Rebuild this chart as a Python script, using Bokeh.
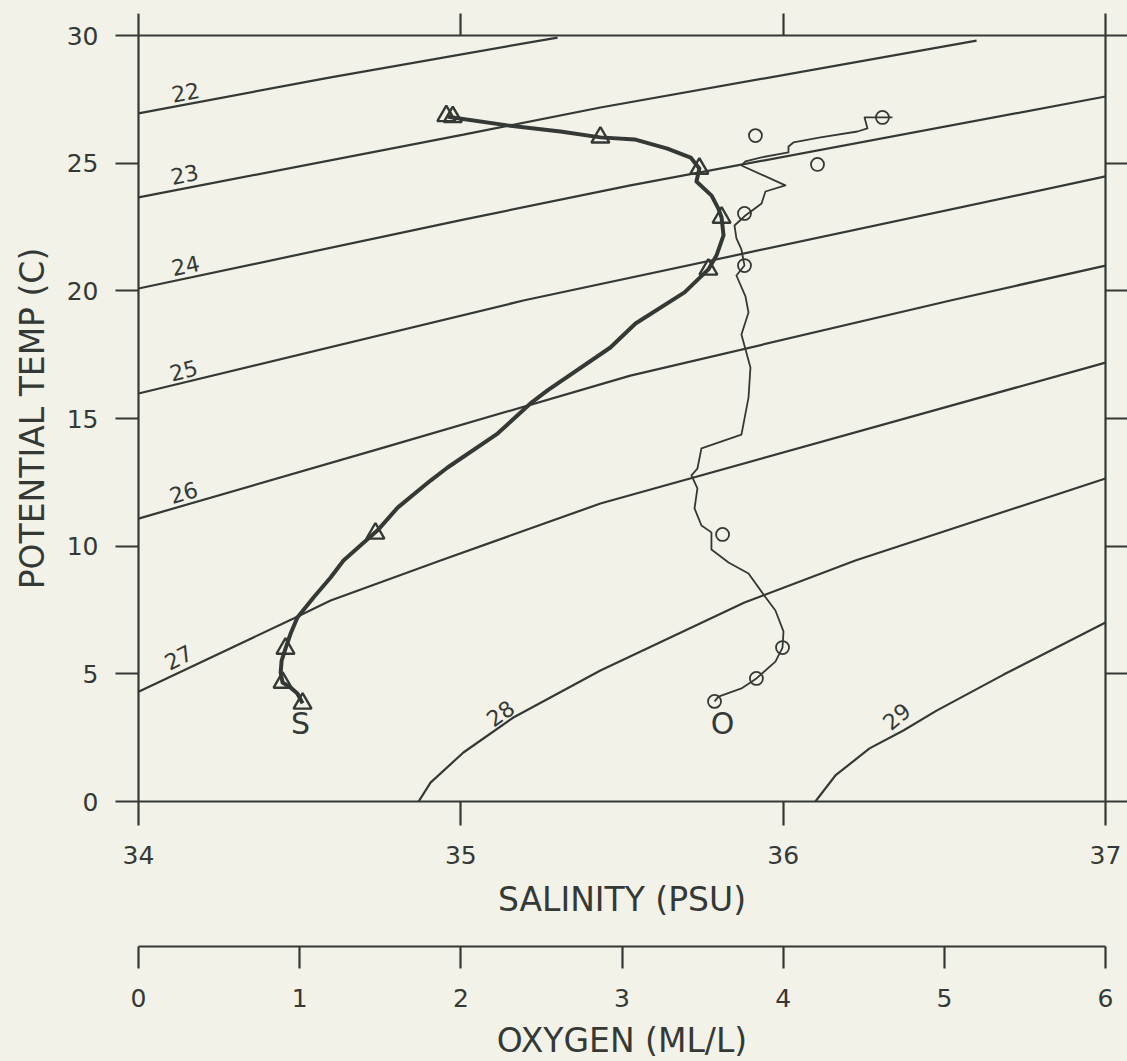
from bokeh.plotting import figure
from bokeh.models import Range1d, LinearAxis, FixedTicker
from bokeh.embed import file_html
from bokeh.resources import INLINE
from bokeh.core.properties import value
import math

# ---------------- data ----------------
SIGMA_LEVELS = ["22", "23", "24", "25", "26", "27", "28", "29"]

ISO22_S = [34.000, 34.596, 35.300]
ISO22_T = [26.95, 28.36, 29.92]
ISO23_S = [34.000, 35.008, 35.433, 36.600]
ISO23_T = [23.66, 26.12, 27.18, 29.80]
ISO24_S = [34.000, 35.008, 35.526, 37.000]
ISO24_T = [20.09, 22.79, 24.13, 27.61]
ISO25_S = [34.000, 35.194, 37.000]
ISO25_T = [15.98, 19.62, 24.48]
ISO26_S = [34.000, 34.760, 35.526, 36.519, 37.000]
ISO26_T = [11.08, 13.86, 16.68, 19.62, 20.99]
ISO27_S = [34.000, 34.481, 34.596, 34.937, 35.433, 37.000]
ISO27_T = [4.30, 7.17, 7.87, 9.44, 11.67, 17.19]
ISO28_S = [34.869, 34.906, 35.008, 35.163, 35.433, 35.880, 36.224, 37.000]
ISO28_T = [0.00, 0.74, 1.92, 3.29, 5.13, 7.79, 9.44, 12.65]
ISO29_S = [36.100, 36.162, 36.268, 36.373, 36.476, 36.684, 37.000]
ISO29_T = [0.00, 1.02, 2.08, 2.78, 3.56, 4.97, 7.01]

# salinity profile (PSU, deg C)
SAL_S = [34.959, 34.974, 35.145, 35.309, 35.433, 35.539, 35.641, 35.713, 35.740,
         35.731, 35.778, 35.799, 35.809, 35.815, 35.793, 35.768, 35.694, 35.542,
         35.464, 35.269, 35.216, 35.114, 34.959, 34.906, 34.804, 34.741, 34.636,
         34.596, 34.543, 34.493, 34.472, 34.456, 34.444, 34.441, 34.447, 34.472,
         34.493, 34.509]
SAL_T = [26.83, 26.79, 26.48, 26.24, 26.01, 25.93, 25.57, 25.22, 24.79,
         24.28, 23.73, 23.22, 22.87, 22.17, 21.38, 20.84, 19.94, 18.72,
         17.78, 16.10, 15.59, 14.41, 13.08, 12.57, 11.51, 10.61, 9.44,
         8.77, 7.99, 7.21, 6.58, 5.99, 5.52, 5.05, 4.66, 4.46,
         4.23, 3.84]
SAL_BOTTLE_S = [34.955, 34.975, 35.433, 35.740, 35.809, 35.768, 34.735, 34.456, 34.447, 34.509]
SAL_BOTTLE_T = [26.85, 26.81, 26.01, 24.79, 22.87, 20.84, 10.50, 5.99, 4.66, 3.84]

# oxygen profile (ml/l, deg C)
OXY_O = [4.678, 4.505, 4.523, 4.461, 4.232, 4.064, 4.033, 4.033, 3.859, 3.766,
         3.741, 4.014, 3.890, 3.866, 3.766, 3.698, 3.710, 3.741, 3.760, 3.710,
         3.766, 3.785, 3.741, 3.797, 3.785, 3.741, 3.493, 3.468, 3.431, 3.468,
         3.450, 3.493, 3.555, 3.555, 3.661, 3.785, 3.878, 3.952, 4.002, 3.996,
         3.952, 3.834, 3.741, 3.599, 3.574]
OXY_T = [26.79, 26.79, 26.36, 26.24, 26.01, 25.81, 25.65, 25.42, 25.22, 25.07,
         24.91, 24.13, 23.89, 23.42, 22.95, 22.56, 22.05, 21.62, 20.99, 20.60,
         19.78, 19.15, 18.29, 17.00, 15.82, 14.37, 13.83, 13.04, 12.77, 12.26,
         11.48, 10.81, 10.54, 9.87, 9.36, 8.93, 8.11, 7.48, 6.66, 6.03,
         5.48, 4.82, 4.43, 4.11, 3.92]
OXY_BOTTLE_O = [4.616, 3.828, 4.213, 3.760, 3.760, 3.624, 3.996, 3.834, 3.574]
OXY_BOTTLE_T = [26.79, 26.08, 24.95, 23.03, 20.99, 10.46, 6.03, 4.82, 3.92]

TEMP_TICKS = [0, 5, 10, 15, 20, 25, 30]
SAL_TICKS = [34, 35, 36, 37]
OXY_TICKS = [0, 1, 2, 3, 4, 5, 6]

# ---------------- annotation layout ----------------
LABEL_S = [34.146, 34.143, 34.146, 34.140, 34.140, 34.124, 35.123, 36.352]
LABEL_T = [27.77, 24.56, 20.99, 16.88, 12.10, 5.64, 3.45, 3.33]
LABEL_ANGLE_DEG = [10.5, 11, 12, 14, 17, 27, 36, 40]

BG = "#f2f2e8"
INK = "#353935"
FONT = "DejaVu Sans"

p = figure(frame_width=967, frame_height=766,
           x_range=Range1d(34, 37), y_range=Range1d(0, 30),
           output_backend="svg", toolbar_location=None,
           min_border_left=130, min_border_right=22,
           min_border_top=0, min_border_bottom=0)
p.extra_x_ranges = {"oxy": Range1d(0, 6)}
p.grid.visible = False
p.outline_line_color = None
p.background_fill_color = BG
p.border_fill_color = BG


def style(ax, ticks, out, labels=True, standoff=15):
    ax.ticker = FixedTicker(ticks=ticks, minor_ticks=[])
    ax.minor_tick_line_color = None
    ax.major_tick_in = 0
    ax.major_tick_out = out
    ax.axis_line_width = 2.2
    ax.axis_line_color = INK
    ax.major_tick_line_width = 2.2
    ax.major_tick_line_color = INK
    ax.major_label_text_font = FONT
    ax.major_label_text_color = INK
    ax.axis_label_text_font = FONT
    ax.axis_label_text_color = INK
    ax.axis_label_text_font_style = "normal"
    ax.axis_label_text_font_size = "33px"
    if labels:
        ax.major_label_text_font_size = "25px"
        ax.major_label_standoff = standoff
    else:
        ax.major_label_text_font_size = "0px"
        ax.major_label_text_color = None
        ax.major_label_standoff = 0


def spacer_axis(tick, length, **kw):
    ax = LinearAxis(**kw)
    style(ax, [tick], length, labels=False)
    ax.axis_line_color = None
    ax.major_tick_line_color = BG
    ax.major_tick_line_width = 1
    return ax


# left (temperature)
yl = p.yaxis[0]
style(yl, TEMP_TICKS, 23, standoff=17)
yl.axis_label = "POTENTIAL TEMP (C)"
yl.axis_label_standoff = 12

# bottom (salinity)
xs = p.xaxis[0]
style(xs, SAL_TICKS, 24, standoff=20)
xs.axis_label = "SALINITY (PSU)"
xs.axis_label_standoff = 13

# top and right ticks
top = LinearAxis()
style(top, SAL_TICKS, 22, labels=False)
p.add_layout(top, "above")
p.add_layout(spacer_axis(34, 5), "above")
right = LinearAxis()
style(right, TEMP_TICKS, 22, labels=False)
p.add_layout(right, "right")

# spacer between salinity and oxygen axes
p.add_layout(spacer_axis(34, 25), "below")

# oxygen axis
ox = LinearAxis(x_range_name="oxy")
style(ox, OXY_TICKS, 22, standoff=20)
ox.axis_label = "OXYGEN (ML/L)"
ox.axis_label_standoff = 11
p.add_layout(ox, "below")

# isopycnals
iso_s = [ISO22_S, ISO23_S, ISO24_S, ISO25_S, ISO26_S, ISO27_S, ISO28_S, ISO29_S]
iso_t = [ISO22_T, ISO23_T, ISO24_T, ISO25_T, ISO26_T, ISO27_T, ISO28_T, ISO29_T]
p.multi_line(xs=iso_s, ys=iso_t, line_color=INK, line_width=2.2)
p.text(x=LABEL_S, y=LABEL_T, text=SIGMA_LEVELS,
       angle=[math.radians(a) for a in LABEL_ANGLE_DEG],
       text_align="center", text_baseline="middle",
       text_font=value(FONT), text_font_size="22px", text_color=INK)

# salinity profile
p.line(SAL_S, SAL_T, line_color=INK, line_width=4, line_join="round")
p.scatter(SAL_BOTTLE_S, SAL_BOTTLE_T, marker="triangle", size=18,
          fill_color=None, line_color=INK, line_width=2.4)

# oxygen profile
p.line(OXY_O, OXY_T, x_range_name="oxy", line_color=INK, line_width=1.8,
       line_join="round")
p.scatter(OXY_BOTTLE_O, OXY_BOTTLE_T, x_range_name="oxy", marker="circle",
          size=13, fill_color=None, line_color=INK, line_width=1.8)

# profile letters
p.text(x=[34.503], y=[3.05], text=["S"], text_align="center",
       text_baseline="middle", text_font=value(FONT), text_font_size="30px",
       text_color=INK)
p.text(x=[3.624], y=[3.05], text=["O"], x_range_name="oxy",
       text_align="center", text_baseline="middle", text_font=value(FONT),
       text_font_size="30px", text_color=INK)

html = file_html(p, INLINE, title="Potential temperature - salinity / oxygen")
html = html.replace(
    "</head>",
    "<style>html,body{background:%s;overflow:hidden;}body{margin:8px 0 0 8px;}</style></head>" % BG,
    1)
open("out.html", "w").write(html)
